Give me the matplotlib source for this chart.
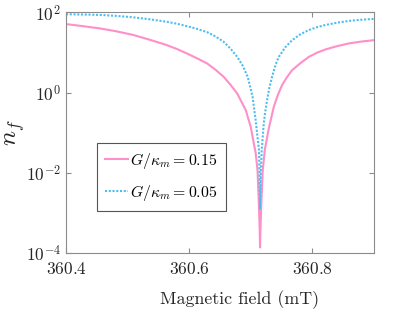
import numpy as np
import matplotlib
matplotlib.use("Agg")
import matplotlib.pyplot as plt
from matplotlib.ticker import FixedLocator, LogFormatterMathtext, NullLocator

plt.rcParams['mathtext.fontset'] = 'cm'
plt.rcParams['font.family'] = 'serif'
plt.rcParams['font.serif'] = ['cmr10', 'DejaVu Serif']
plt.rcParams['axes.formatter.use_mathtext'] = True

# magnetic field (mT) and log10(n_f)
field_a = [360.400, 360.427, 360.454, 360.482, 360.509, 360.536, 360.563, 360.580,
           360.596, 360.615, 360.629, 360.643, 360.656, 360.667, 360.678, 360.692,
           360.700, 360.705, 360.708, 360.711, 360.7130, 360.7146, 360.7151, 360.7157,
           360.7174, 360.7195, 360.7227, 360.7293, 360.7374, 360.744, 360.7509,
           360.759, 360.7672, 360.781, 360.7945, 360.808, 360.8217, 360.840,
           360.8597, 360.880, 360.900]
log_nf_a = [1.71, 1.66, 1.605, 1.53, 1.44, 1.32, 1.19, 1.09,
            0.98, 0.84, 0.73, 0.57, 0.395, 0.20, -0.02, -0.44,
            -0.855, -1.27, -1.50, -1.94, -2.69, -3.44, -3.86, -3.44,
            -2.69, -1.94, -1.44, -0.895, -0.355, -0.06, 0.19,
            0.39, 0.5625, 0.74, 0.895, 1.00, 1.08, 1.16,
            1.23, 1.275, 1.31]

field_b = [360.400, 360.427, 360.454, 360.482, 360.509, 360.536, 360.563, 360.580,
           360.596, 360.612, 360.629, 360.643, 360.656, 360.667, 360.678, 360.687,
           360.695, 360.699, 360.703, 360.708, 360.7134, 360.7141, 360.7146, 360.7151,
           360.7157, 360.7165, 360.7178, 360.7211, 360.7236, 360.7265, 360.730,
           360.7346, 360.740, 360.7456, 360.756, 360.7672, 360.780, 360.7945,
           360.808, 360.8217, 360.840, 360.8597, 360.880, 360.900]
log_nf_b = [1.955, 1.95, 1.94, 1.915, 1.88, 1.83, 1.77, 1.72,
            1.66, 1.595, 1.51, 1.40, 1.27, 1.10, 0.895, 0.67,
            0.395, 0.15, -0.105, -0.69, -1.44, -1.94, -2.44, -2.89,
            -2.44, -1.94, -1.44, -0.77, -0.47, -0.19, 0.11,
            0.395, 0.68, 0.895, 1.13, 1.31, 1.45, 1.5625,
            1.635, 1.69, 1.745, 1.79, 1.82, 1.84]

labels = [r'$G/\kappa_m = 0.15$', r'$G/\kappa_m = 0.05$']

fig = plt.figure(figsize=(4.15, 3.12), dpi=100)
ax = fig.add_axes([0.159, 0.189, 0.742, 0.771])

ax.plot(field_a, 10 ** np.array(log_nf_a), color='#ff8fc8', lw=1.5, label=labels[0])
ax.plot(field_b, 10 ** np.array(log_nf_b), color='#4dbeee', lw=1.5,
        dashes=(1.0, 0.8), label=labels[1])

ax.set_yscale('log')
ax.set_xlim(360.4, 360.9)
ax.set_ylim(1e-4, 1e2)
ax.xaxis.set_major_locator(FixedLocator([360.4, 360.6, 360.8]))
ax.yaxis.set_major_locator(FixedLocator([1e-4, 1e-2, 1e0, 1e2]))
ax.yaxis.set_major_formatter(LogFormatterMathtext())
ax.yaxis.set_minor_locator(NullLocator())
ax.xaxis.set_minor_locator(NullLocator())

for s in ax.spines.values():
    s.set_color('#8c8c8c')
    s.set_linewidth(0.8)
ax.tick_params(direction='in', length=3.5, width=0.8, color='#8c8c8c',
               top=True, right=True, labelsize=12.5, labelcolor='#262626')
ax.tick_params(axis='x', pad=6)

ax.set_xlabel('Magnetic field (mT)', fontsize=12.9, color='#262626')
ax.xaxis.set_label_coords(0.565, -0.155)
ax.set_ylabel(r'$n_f$', fontsize=18, color='#262626')
ax.yaxis.set_label_coords(-0.127, 0.5)

leg = ax.legend(loc='lower left', bbox_to_anchor=(0.1, 0.176), fontsize=11.4,
                handlelength=1.5, handletextpad=0.12, borderpad=0.5,
                labelspacing=0.75, borderaxespad=0, fancybox=False, framealpha=1)
leg.get_frame().set_edgecolor('#555555')
leg.get_frame().set_linewidth(0.8)

fig.savefig('out.png', dpi=100)
